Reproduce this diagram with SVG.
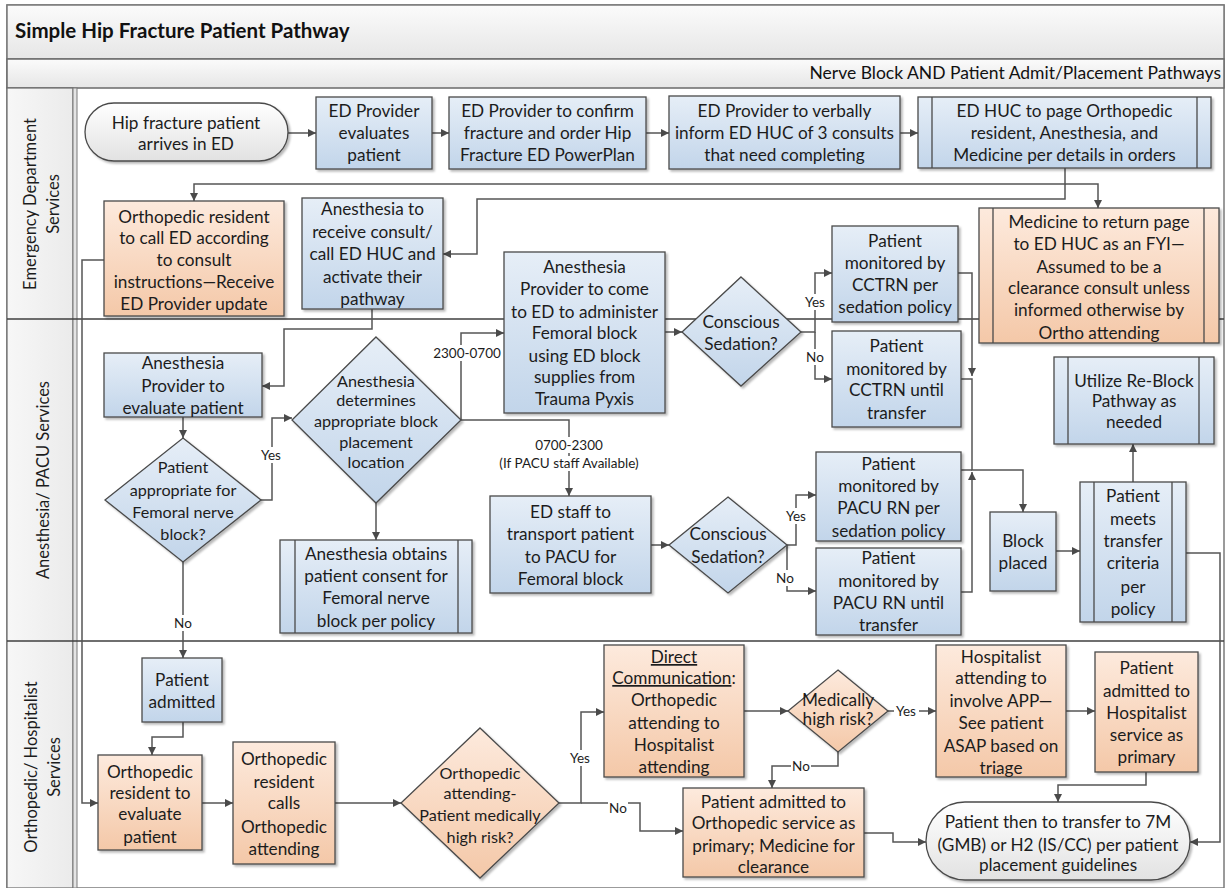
<svg xmlns="http://www.w3.org/2000/svg" width="1225" height="888" viewBox="0 0 1225 888">
<defs>
<linearGradient id="gb" x1="0" y1="0" x2="0" y2="1"><stop offset="0" stop-color="#e6eef7"/><stop offset="1" stop-color="#c2d5ea"/></linearGradient>
<linearGradient id="go" x1="0" y1="0" x2="0" y2="1"><stop offset="0" stop-color="#fdeadd"/><stop offset="1" stop-color="#f4c8a8"/></linearGradient>
<linearGradient id="gt" x1="0" y1="0" x2="0" y2="1"><stop offset="0" stop-color="#ffffff"/><stop offset="1" stop-color="#e2e2e2"/></linearGradient>
<linearGradient id="gh" x1="0" y1="0" x2="0" y2="1"><stop offset="0" stop-color="#fbfbfb"/><stop offset="1" stop-color="#e6e6e6"/></linearGradient>
<linearGradient id="gl" x1="0" y1="0" x2="1" y2="0"><stop offset="0" stop-color="#f7f7f7"/><stop offset="1" stop-color="#ebebeb"/></linearGradient>
<filter id="sh" x="-10%" y="-10%" width="130%" height="130%"><feDropShadow dx="2" dy="2" stdDeviation="1.2" flood-color="#000" flood-opacity="0.28"/></filter>
<marker id="ah" viewBox="0 0 10 10" refX="10" refY="5" markerWidth="9" markerHeight="8" markerUnits="userSpaceOnUse" orient="auto"><path d="M0,0 L10,5 L0,10 z" fill="#4a4a4a"/></marker>
<style>
.b{fill:url(#gb);stroke:#4a4a4a;stroke-width:1.3;filter:url(#sh)}
.o{fill:url(#go);stroke:#4a4a4a;stroke-width:1.3;filter:url(#sh)}
.tm{fill:url(#gt);stroke:#4a4a4a;stroke-width:1.3;filter:url(#sh)}
.il{stroke:#4a4a4a;stroke-width:1.3;fill:none}
.t{font-family:Lato,'Liberation Sans',sans-serif;font-size:17.2px;fill:#1c1c1c;text-anchor:middle}
.s{font-size:16.2px}
.lb{font-family:Lato,'Liberation Sans',sans-serif;font-size:13.5px;fill:#1c1c1c;text-anchor:middle}
.lbg{fill:#ffffff}
.c{fill:none;stroke:#555555;stroke-width:1.5}
.a{marker-end:url(#ah)}
.ln{font-family:Lato,'Liberation Sans',sans-serif;font-size:16.5px;fill:#1c1c1c;text-anchor:middle}
</style>
</defs>

<g id="pool">
<rect x="7" y="5" width="1217" height="883" fill="#ffffff" stroke="#7a7a7a" stroke-width="1.5"/>
<rect x="7" y="5" width="1217" height="54" fill="url(#gh)" stroke="#7a7a7a" stroke-width="1.5"/>
<rect x="7" y="59" width="1217" height="29" fill="url(#gh)" stroke="#6a6a6a" stroke-width="1.5"/>
<text x="15" y="38" font-family="Lato,'Liberation Sans',sans-serif" font-size="20.5" font-weight="bold" fill="#111">Simple Hip Fracture Patient Pathway</text>
<text x="1221" y="79" font-family="Lato,'Liberation Sans',sans-serif" font-size="17.5" fill="#111" text-anchor="end">Nerve Block AND Patient Admit/Placement Pathways</text>
<rect x="7" y="88" width="66" height="800" fill="url(#gl)" stroke="#6a6a6a" stroke-width="1.2"/>
<rect x="73" y="88" width="4" height="800" fill="#e4e4e4" stroke="#7a7a7a" stroke-width="1"/>
<line x1="7" y1="319" x2="1224" y2="319" stroke="#3f3f3f" stroke-width="1.5"/>
<line x1="7" y1="641" x2="1224" y2="641" stroke="#3f3f3f" stroke-width="1.5"/>
<text class="ln" transform="translate(36,204) rotate(-90)">Emergency Department</text>
<text class="ln" transform="translate(59,204) rotate(-90)">Services</text>
<text class="ln" transform="translate(49,480) rotate(-90)">Anesthesia/ PACU Services</text>
<text class="ln" transform="translate(37,767) rotate(-90)">Orthopedic/ Hospitalist</text>
<text class="ln" transform="translate(60,767) rotate(-90)">Services</text>
</g>

<g id="connectors">
<path class="c a" d="M288,133 H316"/>
<path class="c a" d="M432,133 H449"/>
<path class="c a" d="M646,133 H669"/>
<path class="c a" d="M900,133 H918"/>
<path class="c a" d="M1065,168 V184 H194 V201"/>
<path class="c a" d="M1065,184 H1098 V208"/>
<path class="c a" d="M1065,184 V199 H477 V254 H443"/>
<path class="c a" d="M104,260 H82 V803 H98"/>
<path class="c a" d="M372,309 V329 H284 V386 H262"/>
<path class="c a" d="M183,417 V438"/>
<path class="c a" d="M261,500 H272 V418 H292"/>
<path class="c a" d="M376,503 V540"/>
<path class="c a" d="M183,562 V658"/>
<path class="c a" d="M461,420 V333 H504"/>
<path class="c a" d="M461,420 H569 V496"/>
<path class="c a" d="M665,332 H682"/>
<path class="c a" d="M801,332 H815 V273 H832"/>
<path class="c a" d="M815,332 V379 H832"/>
<path class="c a" d="M958,273 H972 V376"/>
<path class="c a" d="M961,379 H972 V470 H1023 V512"/>
<path class="c" d="M961,470 H972"/>
<path class="c a" d="M961,592 H972 V472"/>
<path class="c a" d="M651,545 H669"/>
<path class="c a" d="M787,545 H796 V495 H816"/>
<path class="c a" d="M787,545 V591 H816"/>
<path class="c a" d="M1056,551 H1080"/>
<path class="c a" d="M1133,482 V444"/>
<path class="c a" d="M1186,553 H1220 V842 H1190"/>
<path class="c a" d="M183,722 V737 H152 V755"/>
<path class="c a" d="M202,803 H233"/>
<path class="c a" d="M335,803 H401"/>
<path class="c a" d="M559,803 H581 V712 H604"/>
<path class="c a" d="M581,803 H640 V831 H683"/>
<path class="c a" d="M744,711 H788"/>
<path class="c a" d="M888,711 H936"/>
<path class="c a" d="M1066,711 H1095"/>
<path class="c a" d="M838,752 V766 H772 V788"/>
<path class="c a" d="M864,833 H893 V842 H926"/>
<path class="c a" d="M1146,772 V785 H1058 V802"/>
<rect class="lbg" x="259" y="447" width="25" height="16"/><text class="lb" x="271" y="460">Yes</text>
<rect class="lbg" x="173" y="615" width="20" height="16"/><text class="lb" x="183" y="628">No</text>
<rect class="lbg" x="430" y="345" width="74" height="16"/><text class="lb" x="467" y="358">2300-0700</text>
<rect class="lbg" x="533" y="437" width="72" height="16"/><text class="lb" x="569" y="450">0700-2300</text>
<rect class="lbg" x="492" y="456" width="162" height="15"/><text class="lb" x="569" y="468" font-size="12">(If PACU staff Available)</text>
<rect class="lbg" x="803" y="294" width="25" height="16"/><text class="lb" x="815" y="307">Yes</text>
<rect class="lbg" x="805" y="349" width="20" height="16"/><text class="lb" x="815" y="362">No</text>
<rect class="lbg" x="784" y="508" width="25" height="16"/><text class="lb" x="796" y="521">Yes</text>
<rect class="lbg" x="775" y="570" width="20" height="16"/><text class="lb" x="785" y="583">No</text>
<rect class="lbg" x="568" y="750" width="25" height="16"/><text class="lb" x="580" y="763">Yes</text>
<rect class="lbg" x="608" y="800" width="20" height="16"/><text class="lb" x="618" y="813">No</text>
<rect class="lbg" x="894" y="703" width="25" height="16"/><text class="lb" x="906" y="716">Yes</text>
<rect class="lbg" x="791" y="758" width="20" height="16"/><text class="lb" x="801" y="771">No</text>
</g>

<g id="n1"><rect class="tm" x="85" y="103" width="203" height="58" rx="29"/>
<text class="t"><tspan y="129" x="186">Hip fracture patient</tspan><tspan y="150" x="186">arrives in ED</tspan></text></g>
<g id="n2"><rect class="b" x="316" y="97" width="116" height="72"/>
<text class="t"><tspan x="374" y="117">ED Provider</tspan><tspan x="374" y="139">evaluates</tspan><tspan x="374" y="161">patient</tspan></text></g>
<g id="n3"><rect class="b" x="449" y="97" width="197" height="72"/>
<text class="t"><tspan x="547.5" y="117">ED Provider to confirm</tspan><tspan x="547.5" y="139">fracture and order Hip</tspan><tspan x="547.5" y="161">Fracture ED PowerPlan</tspan></text></g>
<g id="n4"><rect class="b" x="669" y="96" width="231" height="73"/>
<text class="t"><tspan x="784.5" y="117">ED Provider to verbally</tspan><tspan x="784.5" y="139">inform ED HUC of 3 consults</tspan><tspan x="784.5" y="161">that need completing</tspan></text></g>
<g id="n5"><rect class="b" x="918" y="97" width="293" height="71"/><path class="il" d="M932,97 V168 M1197,97 V168"/>
<text class="t"><tspan x="1064.5" y="117">ED HUC to page Orthopedic</tspan><tspan x="1064.5" y="139">resident, Anesthesia, and</tspan><tspan x="1064.5" y="161">Medicine per details in orders</tspan></text></g>
<g id="n6"><rect class="o" x="104" y="201" width="180" height="115"/>
<text class="t"><tspan x="194" y="223">Orthopedic resident</tspan><tspan x="194" y="244">to call ED according</tspan><tspan x="194" y="266">to consult</tspan><tspan x="194" y="288">instructions—Receive</tspan><tspan x="194" y="310">ED Provider update</tspan></text></g>
<g id="n7"><rect class="b" x="302" y="198" width="141" height="111"/>
<text class="t"><tspan x="372.5" y="215">Anesthesia to</tspan><tspan x="372.5" y="238">receive consult/</tspan><tspan x="372.5" y="260">call ED HUC and</tspan><tspan x="372.5" y="283">activate their</tspan><tspan x="372.5" y="305">pathway</tspan></text></g>
<g id="n8"><rect class="o" x="979" y="208" width="240" height="135"/><path class="il" d="M993,208 V343 M1204,208 V343"/>
<text class="t"><tspan x="1099" y="228">Medicine to return page</tspan><tspan x="1099" y="250">to ED HUC as an FYI—</tspan><tspan x="1099" y="273">Assumed to be a</tspan><tspan x="1099" y="294">clearance consult unless</tspan><tspan x="1099" y="316">informed otherwise by</tspan><tspan x="1099" y="339">Ortho attending</tspan></text></g>
<g id="n9"><rect class="b" x="104" y="353" width="158" height="64"/>
<text class="t"><tspan x="183" y="369">Anesthesia</tspan><tspan x="183" y="392">Provider to</tspan><tspan x="183" y="414">evaluate patient</tspan></text></g>
<g id="n10"><polygon class="b" points="183,438 261,500 183,562 105,500"/>
<text class="t s"><tspan x="183" y="473">Patient</tspan><tspan x="183" y="496">appropriate for</tspan><tspan x="183" y="518">Femoral nerve</tspan><tspan x="183" y="540">block?</tspan></text></g>
<g id="n11"><polygon class="b" points="376,337 461,420 376,503 292,420"/>
<text class="t s"><tspan x="376" y="387">Anesthesia</tspan><tspan x="376" y="406">determines</tspan><tspan x="376" y="427">appropriate block</tspan><tspan x="376" y="448">placement</tspan><tspan x="376" y="468">location</tspan></text></g>
<g id="n12"><rect class="b" x="280" y="540" width="192" height="93"/><path class="il" d="M295,540 V633 M458,540 V633"/>
<text class="t"><tspan x="376" y="560">Anesthesia obtains</tspan><tspan x="376" y="582">patient consent for</tspan><tspan x="376" y="604">Femoral nerve</tspan><tspan x="376" y="627">block per policy</tspan></text></g>
<g id="n13"><rect class="b" x="504" y="252" width="161" height="161"/>
<text class="t"><tspan x="584.5" y="273">Anesthesia</tspan><tspan x="584.5" y="295">Provider to come</tspan><tspan x="584.5" y="318">to ED to administer</tspan><tspan x="584.5" y="339">Femoral block</tspan><tspan x="584.5" y="362">using ED block</tspan><tspan x="584.5" y="383">supplies from</tspan><tspan x="584.5" y="405">Trauma Pyxis</tspan></text></g>
<g id="n14"><rect class="b" x="490" y="496" width="161" height="97"/>
<text class="t"><tspan x="570.5" y="518">ED staff to</tspan><tspan x="570.5" y="540">transport patient</tspan><tspan x="570.5" y="563">to PACU for</tspan><tspan x="570.5" y="585">Femoral block</tspan></text></g>
<g id="n15"><polygon class="b" points="741,277 801,332 741,386 682,332"/>
<text class="t"><tspan x="741" y="328">Conscious</tspan><tspan x="741" y="350">Sedation?</tspan></text></g>
<g id="n16"><rect class="b" x="832" y="226" width="126" height="96"/>
<text class="t"><tspan x="895" y="247">Patient</tspan><tspan x="895" y="269">monitored by</tspan><tspan x="895" y="291">CCTRN per</tspan><tspan x="895" y="313">sedation policy</tspan></text></g>
<g id="n17"><rect class="b" x="832" y="331" width="129" height="96"/>
<text class="t"><tspan x="896.5" y="352">Patient</tspan><tspan x="896.5" y="375">monitored by</tspan><tspan x="896.5" y="396">CCTRN until</tspan><tspan x="896.5" y="419">transfer</tspan></text></g>
<g id="n18"><rect class="b" x="816" y="452" width="145" height="89"/>
<text class="t"><tspan x="888.5" y="470">Patient</tspan><tspan x="888.5" y="492">monitored by</tspan><tspan x="888.5" y="514">PACU RN per</tspan><tspan x="888.5" y="537">sedation policy</tspan></text></g>
<g id="n19"><rect class="b" x="816" y="548" width="145" height="87"/>
<text class="t"><tspan x="888.5" y="564">Patient</tspan><tspan x="888.5" y="587">monitored by</tspan><tspan x="888.5" y="609">PACU RN until</tspan><tspan x="888.5" y="631">transfer</tspan></text></g>
<g id="n20"><polygon class="b" points="728,497 787,545 728,593 669,545"/>
<text class="t"><tspan x="728" y="540">Conscious</tspan><tspan x="728" y="563">Sedation?</tspan></text></g>
<g id="n21"><rect class="b" x="990" y="512" width="66" height="79"/>
<text class="t"><tspan x="1023" y="547">Block</tspan><tspan x="1023" y="569">placed</tspan></text></g>
<g id="n22"><rect class="b" x="1080" y="482" width="106" height="140"/><path class="il" d="M1094,482 V622 M1172,482 V622"/>
<text class="t"><tspan x="1133" y="502">Patient</tspan><tspan x="1133" y="525">meets</tspan><tspan x="1133" y="547">transfer</tspan><tspan x="1133" y="569">criteria</tspan><tspan x="1133" y="593">per</tspan><tspan x="1133" y="615">policy</tspan></text></g>
<g id="n23"><rect class="b" x="1054" y="357" width="160" height="87"/><path class="il" d="M1068,357 V444 M1199,357 V444"/>
<text class="t"><tspan x="1134" y="387">Utilize Re-Block</tspan><tspan x="1134" y="407">Pathway as</tspan><tspan x="1134" y="428">needed</tspan></text></g>
<g id="n24"><rect class="b" x="142" y="658" width="80" height="64"/>
<text class="t"><tspan x="182" y="686">Patient</tspan><tspan x="182" y="708">admitted</tspan></text></g>
<g id="n25"><rect class="o" x="98" y="755" width="104" height="95"/>
<text class="t"><tspan x="150" y="778">Orthopedic</tspan><tspan x="150" y="799">resident to</tspan><tspan x="150" y="820">evaluate</tspan><tspan x="150" y="843">patient</tspan></text></g>
<g id="n26"><rect class="o" x="233" y="742" width="102" height="122"/>
<text class="t"><tspan x="284" y="765">Orthopedic</tspan><tspan x="284" y="788">resident</tspan><tspan x="284" y="809">calls</tspan><tspan x="284" y="833">Orthopedic</tspan><tspan x="284" y="855">attending</tspan></text></g>
<g id="n27"><polygon class="o" points="480,728 559,803 480,878 401,803"/>
<text class="t s"><tspan x="480" y="779">Orthopedic</tspan><tspan x="480" y="799">attending-</tspan><tspan x="480" y="821">Patient medically</tspan><tspan x="480" y="843">high risk?</tspan></text></g>
<g id="n28"><rect class="o" x="604" y="645" width="140" height="132"/>
<text class="t"><tspan x="674" y="663" text-decoration="underline">Direct</tspan><tspan x="674" y="684"><tspan text-decoration="underline">Communication</tspan>:</tspan><tspan x="674" y="706">Orthopedic</tspan><tspan x="674" y="729">attending to</tspan><tspan x="674" y="751">Hospitalist</tspan><tspan x="674" y="773">attending</tspan></text></g>
<g id="n29"><polygon class="o" points="838,670 888,711 838,752 788,711"/>
<text class="t" font-size="14"><tspan x="838" y="706">Medically</tspan><tspan x="838" y="725">high risk?</tspan></text></g>
<g id="n30"><rect class="o" x="936" y="645" width="130" height="132"/>
<text class="t"><tspan x="1001" y="663">Hospitalist</tspan><tspan x="1001" y="684">attending to</tspan><tspan x="1001" y="707">involve APP—</tspan><tspan x="1001" y="729">See patient</tspan><tspan x="1001" y="752">ASAP based on</tspan><tspan x="1001" y="774">triage</tspan></text></g>
<g id="n31"><rect class="o" x="1095" y="652" width="103" height="120"/>
<text class="t"><tspan x="1146.5" y="674">Patient</tspan><tspan x="1146.5" y="697">admitted to</tspan><tspan x="1146.5" y="719">Hospitalist</tspan><tspan x="1146.5" y="741">service as</tspan><tspan x="1146.5" y="763">primary</tspan></text></g>
<g id="n32"><rect class="o" x="683" y="788" width="181" height="89"/>
<text class="t"><tspan x="773.5" y="808">Patient admitted to</tspan><tspan x="773.5" y="829">Orthopedic service as</tspan><tspan x="773.5" y="852">primary; Medicine for</tspan><tspan x="773.5" y="873">clearance</tspan></text></g>
<g id="n33"><rect class="tm" x="926" y="802" width="264" height="78" rx="39"/>
<text class="t"><tspan x="1058" y="828">Patient then to transfer to 7M</tspan><tspan x="1058" y="851">(GMB) or H2 (IS/CC) per patient</tspan><tspan x="1058" y="871">placement guidelines</tspan></text></g>
</svg>
